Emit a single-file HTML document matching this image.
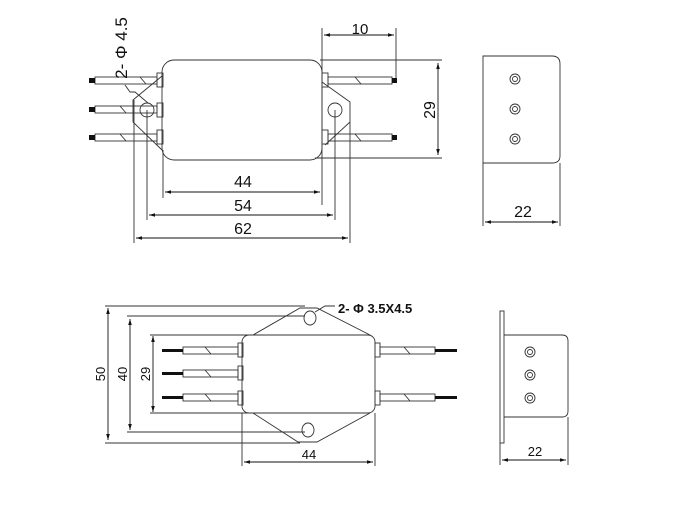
<!DOCTYPE html>
<html><head><meta charset="utf-8"><style>
html,body{margin:0;padding:0;background:#fff;}
svg{display:block;}
text{font-family:"Liberation Sans",Arial,sans-serif;fill:#111;}
</style></head><body>
<svg width="687" height="529" viewBox="0 0 687 529" xmlns="http://www.w3.org/2000/svg">
<defs>
<marker id="a" viewBox="0 0 10 6" refX="10" refY="3" markerWidth="8" markerHeight="4" orient="auto-start-reverse"><path d="M0,0 L10,3 L0,6z" fill="#111"/></marker>
</defs>
<g stroke="#333" stroke-width="0.9" fill="none">
<path d="M162,76 L133,100 L133,122 L162,150"/>
<path d="M322,82 L350,102 L350,122 L325,145"/>
<circle cx="147" cy="110" r="7"/>
<circle cx="335" cy="110" r="7"/>
<rect x="162" y="60" width="160" height="100" rx="12" fill="#fff"/>
<g>
<rect x="157" y="73" width="6" height="14"/><rect x="157" y="103" width="6" height="14"/><rect x="157" y="130" width="6" height="14"/>
<rect x="95" y="77" width="62" height="7"/><rect x="95" y="106" width="62" height="7"/><rect x="95" y="134" width="62" height="7"/>
<path d="M120,106 L126,113 M120,134 L126,141 M140,77 L146,84"/>
<rect x="322" y="73" width="6" height="14"/><rect x="322" y="130" width="6" height="14"/>
<rect x="328" y="77" width="64" height="7"/><rect x="328" y="134" width="64" height="7"/>
<path d="M355,77 L361,84 M355,134 L361,141"/>
</g>
<path d="M125,85 L130,92 L135,92 L148,103"/>
<path d="M163,150 L163,198 M322,28 L322,205 M147,110 L147,220 M335,110 L335,220 M134,100 L134,243 M350,122 L350,243"/>
<path d="M396,28 L396,80 M320,60 L442,60 M315,158 L442,158"/>
</g>
<g fill="#111">
<rect x="89" y="78" width="6" height="5"/><rect x="89" y="107" width="6" height="5"/><rect x="89" y="135" width="6" height="5"/>
<rect x="392" y="78" width="5" height="5"/><rect x="392" y="135" width="5" height="5"/>
</g>
<g stroke="#111" stroke-width="0.9" fill="none" marker-start="url(#a)" marker-end="url(#a)">
<line x1="165" y1="192" x2="320" y2="192"/>
<line x1="149" y1="215" x2="333" y2="215"/>
<line x1="136" y1="238" x2="348" y2="238"/>
<line x1="324" y1="35" x2="394" y2="35"/>
<line x1="438" y1="63" x2="438" y2="155"/>
<line x1="485" y1="222" x2="558" y2="222"/>
<line x1="108" y1="308" x2="108" y2="440"/>
<line x1="130" y1="319" x2="130" y2="430"/>
<line x1="153" y1="336" x2="153" y2="412"/>
<line x1="244" y1="462" x2="373" y2="462"/>
<line x1="502" y1="460" x2="566" y2="460"/>
</g>
<g font-size="16" text-anchor="middle">
<text x="243" y="187">44</text>
<text x="243" y="211">54</text>
<text x="243" y="234">62</text>
<text x="360" y="34" font-size="15">10</text>
<text transform="translate(435,110) rotate(-90)">29</text>
<text transform="translate(127,48) rotate(-90)" font-size="17">2- Φ 4.5</text>
<text x="523" y="217">22</text>
</g>
<g stroke="#333" stroke-width="0.9" fill="none">
<path d="M483,163 L483,56 L552,56 Q560,56 560,64 L560,156 Q560,163 552,163 Z"/>
<path d="M483,163 L483,226 M560,163 L560,226"/>
<circle cx="515" cy="79" r="5"/><circle cx="515" cy="79" r="2.5"/>
<circle cx="515" cy="109" r="5"/><circle cx="515" cy="109" r="2.5"/>
<circle cx="515" cy="139" r="5"/><circle cx="515" cy="139" r="2.5"/>
<path d="M253,335 L300,308 L317,308 L370,335 M253,413 L298,442 L317,442 L370,413"/>
<ellipse cx="310" cy="318" rx="6" ry="7"/>
<ellipse cx="308" cy="430" rx="6" ry="7"/>
<rect x="242" y="335" width="133" height="78" rx="7" fill="#fff"/>
<rect x="238" y="343" width="5" height="14"/><rect x="238" y="366" width="5" height="14"/><rect x="238" y="391" width="5" height="14"/>
<rect x="183" y="347" width="55" height="7"/><rect x="183" y="370" width="55" height="7"/><rect x="183" y="394" width="55" height="7"/>
<path d="M205,347 L211,354 M205,370 L211,377 M205,394 L211,401"/>
<rect x="375" y="343" width="5" height="14"/><rect x="375" y="391" width="5" height="14"/>
<rect x="380" y="347" width="55" height="7"/><rect x="380" y="394" width="55" height="7"/>
<path d="M404,347 L410,354 M404,394 L410,401"/>
<path d="M315,312 L325,306 L335,306"/>
<path d="M105,306 L305,306 M105,443 L300,443 M127,316 L305,316 M127,432 L305,432 M150,335 L250,335 M150,413 L250,413"/>
<path d="M242,413 L242,466 M375,413 L375,466"/>
<rect x="500" y="311" width="4" height="132"/>
<path d="M504,335 L562,335 Q568,335 568,341 L568,411 Q568,417 562,417 L504,417"/>
<path d="M500,443 L500,465 M568,417 L568,465"/>
<circle cx="530" cy="352" r="5"/><circle cx="530" cy="352" r="2.5"/>
<circle cx="530" cy="375" r="5"/><circle cx="530" cy="375" r="2.5"/>
<circle cx="530" cy="398" r="5"/><circle cx="530" cy="398" r="2.5"/>
</g>
<g fill="#111">
<rect x="162" y="349" width="21" height="3"/><rect x="162" y="372" width="21" height="3"/><rect x="162" y="396" width="21" height="3"/>
<rect x="435" y="349" width="22" height="3"/><rect x="435" y="396" width="22" height="3"/>
</g>
<g font-size="13" text-anchor="middle">
<text transform="translate(105,374) rotate(-90)">50</text>
<text transform="translate(127,374) rotate(-90)">40</text>
<text transform="translate(150,374) rotate(-90)">29</text>
<text x="309" y="459">44</text>
<text x="535" y="456">22</text>
<text x="338" y="313" text-anchor="start" font-weight="bold">2- Φ 3.5X4.5</text>
</g>
</svg>
</body></html>
